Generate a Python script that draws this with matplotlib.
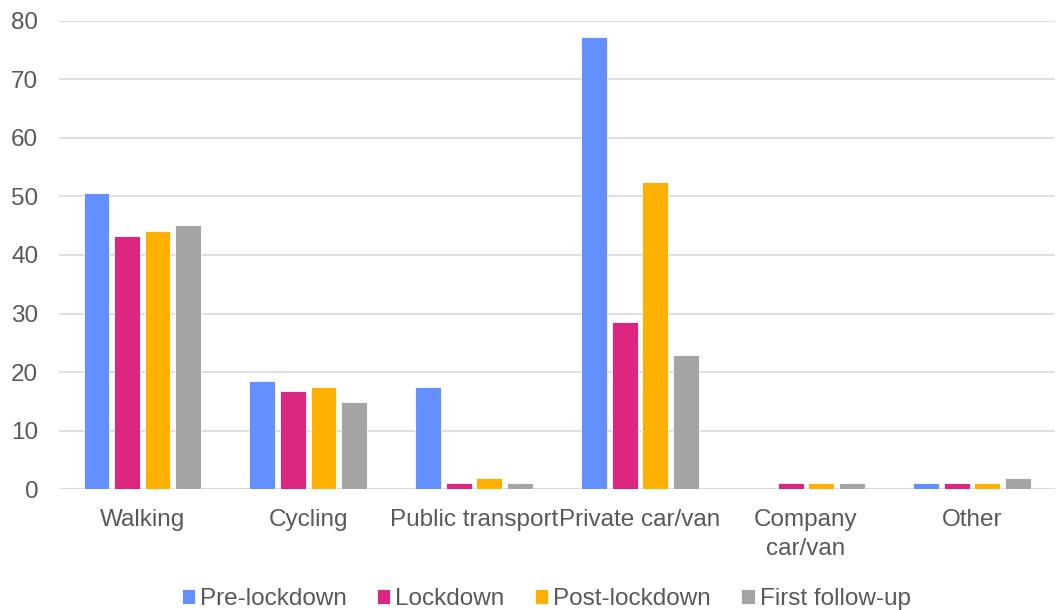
import matplotlib.pyplot as plt
import numpy as np

plt.rcParams['font.family'] = ['Liberation Sans', 'DejaVu Sans']

modes = ["Walking", "Cycling", "Public transport", "Private car/van",
         "Company\ncar/van", "Other"]
pre_lockdown = [50.6, 18.5, 17.5, 77.2, 0, 1]
lockdown = [43.2, 16.7, 1, 28.6, 1, 1]
post_lockdown = [44.1, 17.5, 2, 52.4, 1, 1]
first_follow_up = [45.1, 14.9, 1, 23.0, 1, 2]

series = [
    ("Pre-lockdown", pre_lockdown, "#648FFF"),
    ("Lockdown", lockdown, "#DC267F"),
    ("Post-lockdown", post_lockdown, "#FFB000"),
    ("First follow-up", first_follow_up, "#A5A5A5"),
]

fig = plt.figure(figsize=(10.57, 6.10), dpi=100)
ax = fig.add_axes([0.056, 0.198, 0.942, 0.768])

x = np.arange(len(modes))
w = 0.155
pitch = 0.184
for i, (name, vals, col) in enumerate(series):
    ax.bar(x + (i - 1.5) * pitch, vals, w, color=col, label=name,
           edgecolor="white", linewidth=0.6, zorder=3)

ax.set_xlim(-0.5, len(modes) - 0.5)
ax.set_ylim(0, 80)
ax.set_yticks(range(0, 81, 10))
ax.set_xticks(x)
ax.set_xticklabels(modes, linespacing=1.45)
ax.grid(axis="y", color="#D9D9D9", linewidth=1.2, zorder=0)
for s in ax.spines.values():
    s.set_visible(False)
ax.tick_params(length=0, labelsize=17.5, colors="#595959")
ax.tick_params(axis="x", pad=14)
ax.tick_params(axis="y", pad=15)
ax.axhline(0, color="#D9D9D9", linewidth=1.2, zorder=2)

ax.legend(loc="center", bbox_to_anchor=(0.489, -0.234), ncol=4,
          frameon=False, fontsize=17.5, handlelength=0.55, handleheight=0.55,
          handletextpad=0.2, columnspacing=1.25, labelcolor="#595959")

fig.savefig("out.png", dpi=100)
